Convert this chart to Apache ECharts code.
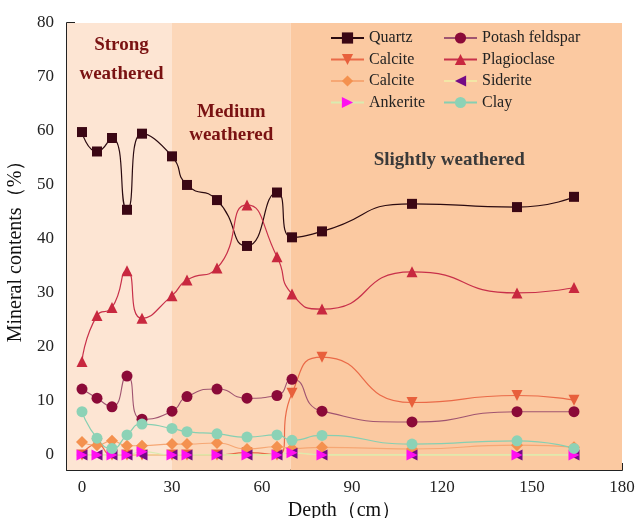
<!DOCTYPE html>
<html>
<head>
<meta charset="utf-8">
<style>
  html, body { margin: 0; padding: 0; background: #ffffff; }
  #chart { width: 636px; height: 518px; }
</style>
<script src="https://cdn.jsdelivr.net/npm/echarts@6/dist/echarts.min.js"></script>
</head>
<body>
<div id="chart"></div>
<script>
// Sampling depths (cm)
const depths = [0, 5, 10, 15, 20, 30, 35, 45, 55, 65, 70, 80, 110, 145, 164];

// Mineral contents (%) at each depth
const quartz       = [59.8, 56.2, 58.7, 45.4, 59.5, 55.3, 50.0, 47.2, 38.7, 48.6, 40.3, 41.4, 46.5, 45.9, 47.8];
const potash       = [12.2, 10.5, 8.9, 14.6, 6.6, 8.1, 10.8, 12.2, 10.5, 11.0, 14.0, 8.1, 6.1, 8.0, 8.0];
const calciteA     = [0, 2.0, 0, 0, 0, 0, 0, 0, 0.4, 0, 11.4, 18.1, 9.7, 11.0, 10.1];
const plagioclase  = [17.3, 25.8, 27.3, 34.1, 25.3, 29.5, 32.4, 34.6, 46.3, 36.7, 29.8, 27.0, 33.9, 30.0, 31.0];
const calciteB     = [2.4, 1.8, 2.6, 1.7, 1.7, 2.0, 2.0, 2.2, 1.1, 1.5, 1.2, 1.4, 1.1, 1.8, 1.4];
const siderite     = [0, 0, 0, 0, 0, 0, 0, 0, 0, 0, 0.3, 0, 0, 0, 0];
const ankerite     = [0, 0, 0, 0, 0.6, 0, 0, 0, 0, 0, 0.4, 0, 0, 0, 0];
const clay         = [8.0, 3.1, 1.2, 3.7, 5.7, 4.9, 4.3, 3.9, 3.3, 3.7, 2.7, 3.6, 2.0, 2.6, 1.2];

// Axis ticks
const xTicks = [0, 30, 60, 90, 120, 150, 180];
const yTicks = [0, 10, 20, 30, 40, 50, 60, 70, 80];

// Weathering zones (depth ranges)
const zoneNames = ['Strong\nweathered', 'Medium\nweathered', 'Slightly weathered'];
const zoneBounds = [[-5, 30], [30, 69.5], [69.5, 180]];

const serif = '"Times New Roman", "Liberation Serif", serif';

function pairs(values) {
  return depths.map((d, i) => [d, values[i]]);
}

function lineSeries(name, values, opts) {
  return Object.assign({
    name: name,
    type: 'line',
    smooth: 0.6,
    data: pairs(values),
    symbolSize: 11,
    z: 3
  }, opts);
}

const zoneStyles = [
  { color: '#FDE5D3', label: { color: '#7A1212', distance: 8, offset: [2, 0], lineHeight: 29 } },
  { color: '#FCD7B9', label: { color: '#7A1212', distance: 78, offset: [0, 0], lineHeight: 23 } },
  { color: '#FBC9A1', label: { color: '#3A3A3A', distance: 126, offset: [-7, 0], lineHeight: 23 } }
];

const zoneData = zoneBounds.map((b, i) => [
  {
    xAxis: b[0],
    itemStyle: { color: zoneStyles[i].color },
    label: Object.assign({
      show: true,
      position: 'insideTop',
      formatter: zoneNames[i],
      fontFamily: serif,
      fontWeight: 'bold',
      fontSize: 19,
      align: 'center'
    }, zoneStyles[i].label)
  },
  { xAxis: b[1] }
]);

const chart = echarts.init(document.getElementById('chart'), null, { renderer: 'canvas' });

const legendCommon = {
  orient: 'vertical',
  top: 30,
  padding: 0,
  itemWidth: 33,
  itemHeight: 14,
  itemGap: 5.5,
  textStyle: { fontFamily: serif, fontSize: 16, color: '#222' },
  formatter: n => n.trim()
};

chart.setOption({
  animation: false,
  backgroundColor: '#ffffff',
  grid: { left: 67, right: 14, top: 23, bottom: 48, containLabel: false, outerBoundsMode: 'none' },
  legend: [
    Object.assign({ left: 330, data: ['Quartz', 'Calcite', 'Calcite ', 'Ankerite'] }, legendCommon),
    Object.assign({ left: 443, data: ['Potash feldspar', 'Plagioclase', 'Siderite', 'Clay'] }, legendCommon)
  ],
  xAxis: {
    type: 'value',
    min: -5,
    max: 180,
    name: 'Depth（cm）',
    nameLocation: 'middle',
    nameGap: 26,
    nameTextStyle: { fontFamily: serif, fontSize: 20, color: '#111' },
    axisLine: { show: true, onZero: false, lineStyle: { color: '#222', width: 2 } },
    axisTick: { show: true, inside: true, length: 7, customValues: xTicks, lineStyle: { color: '#222', width: 2 } },
    axisLabel: { customValues: xTicks, margin: 9, fontFamily: serif, fontSize: 17, color: '#222' },
    splitLine: { show: false }
  },
  yAxis: {
    type: 'value',
    min: -2.8,
    max: 80,
    name: 'Mineral contents（%）',
    nameLocation: 'middle',
    nameGap: 37,
    nameTextStyle: { fontFamily: serif, fontSize: 20, color: '#111' },
    axisLine: { show: true, onZero: false, lineStyle: { color: '#222', width: 2 } },
    axisTick: { show: true, inside: true, length: 8, customValues: yTicks, lineStyle: { color: '#222', width: 2 } },
    axisLabel: { customValues: yTicks, margin: 13, fontFamily: serif, fontSize: 17, color: '#222' },
    splitLine: { show: false }
  },
  series: [
    {
      name: 'zones',
      type: 'line',
      data: [],
      z: 1,
      silent: true,
      markArea: { silent: true, data: zoneData }
    },
    lineSeries('Quartz', quartz, {
      symbol: 'rect', symbolSize: 10,
      itemStyle: { color: '#3B0714' },
      lineStyle: { color: '#2A0A10', width: 1.2 }
    }),
    lineSeries('Potash feldspar', potash, {
      symbol: 'circle',
      itemStyle: { color: '#8B0A38' },
      lineStyle: { color: '#A05470', width: 1.1 }
    }),
    lineSeries('Calcite', calciteA, {
      symbol: 'triangle', symbolRotate: 180,
      itemStyle: { color: '#E8603C' },
      lineStyle: { color: '#EA6A48', width: 1.2 }
    }),
    lineSeries('Plagioclase', plagioclase, {
      symbol: 'triangle',
      itemStyle: { color: '#C8283F' },
      lineStyle: { color: '#C8304A', width: 1.2 }
    }),
    lineSeries('Calcite ', calciteB, {
      symbol: 'diamond', symbolSize: 12,
      itemStyle: { color: '#F4914F' },
      lineStyle: { color: '#F6A774', width: 1.1 }
    }),
    lineSeries('Siderite', siderite, {
      symbol: 'triangle', symbolRotate: 90,
      itemStyle: { color: '#750A86' },
      lineStyle: { color: '#F3E7A6', width: 1.1 }
    }),
    lineSeries('Ankerite', ankerite, {
      symbol: 'triangle', symbolRotate: -90,
      itemStyle: { color: '#FF10F0' },
      lineStyle: { color: '#D9EBB0', width: 1.1 }
    }),
    lineSeries('Clay', clay, {
      symbol: 'circle',
      itemStyle: { color: '#8CD2B6' },
      lineStyle: { color: '#86CFB2', width: 1.2 }
    })
  ]
});
</script>
</body>
</html>
